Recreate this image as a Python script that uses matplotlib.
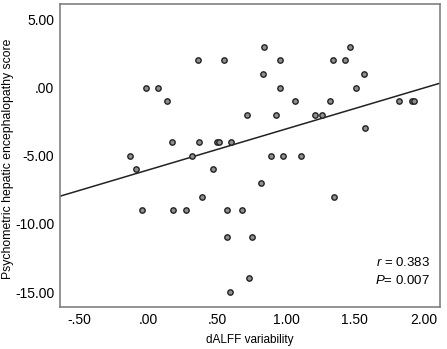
import numpy as np
import matplotlib
matplotlib.use("Agg")
import matplotlib.pyplot as plt

plt.rcParams['font.family'] = ['Liberation Sans', 'DejaVu Sans']
plt.rcParams['mathtext.fontset'] = 'custom'
plt.rcParams['mathtext.rm'] = 'Liberation Sans'
plt.rcParams['mathtext.it'] = 'Liberation Sans:italic'

# dALFF variability (x) and PHES score (y)
dalff = [-0.137, -0.089, -0.047, -0.020, 0.071, 0.132, 0.169, 0.180, 0.271, 0.319,
         0.362, 0.369, 0.389, 0.471, 0.496, 0.511, 0.549, 0.571, 0.571, 0.591,
         0.598, 0.678, 0.719, 0.733, 0.751, 0.820, 0.831, 0.840, 0.891, 0.927,
         0.959, 0.959, 0.980, 1.068, 1.109, 1.211, 1.260, 1.320, 1.340, 1.349,
         1.429, 1.468, 1.509, 1.569, 1.577, 1.820, 1.914, 1.929]
phes = [-5, -6, -9, 0, 0, -1, -4, -9, -9, -5,
        2, -4, -8, -6, -4, -4, 2, -9, -11, -15,
        -4, -9, -2, -14, -11, -7, 1, 3, -5, -2,
        2, 0, -5, -1, -5, -2, -2, -1, 2, -8,
        2, 3, 0, 1, -3, -1, -1, -1]

x_ticks = [-0.5, 0.0, 0.5, 1.0, 1.5, 2.0]
x_labels = ['-.50', '.00', '.50', '1.00', '1.50', '2.00']
y_ticks = [5, 0, -5, -10, -15]
y_labels = ['5.00', '.00', '-5.00', '-10.00', '-15.00']

fig = plt.figure(figsize=(4.47, 3.49), dpi=100)
ax = fig.add_axes([60 / 447, 42 / 349, 380 / 447, 303 / 349])

ax.scatter(dalff, phes, s=15, facecolor='#8f8f8f', edgecolor='#222222', linewidth=1.0, zorder=3)

# linear fit line across the whole axis
xmin, xmax = -0.644, 2.12
slope, intercept = np.polyfit(dalff, phes, 1)
xs = np.array([xmin, xmax])
ax.plot(xs, slope * xs + intercept, color='#222222', linewidth=1.1, zorder=2)

ax.set_xlim(xmin, xmax)
ax.set_ylim(-16.1, 6.13)
ax.set_xticks(x_ticks)
ax.set_xticklabels(x_labels)
ax.set_yticks(y_ticks)
ax.set_yticklabels(y_labels)
ax.tick_params(length=0, labelsize=10, pad=4)
for s in ax.spines.values():
    s.set_color('#808080')
    s.set_linewidth(1.2)

ax.set_xlabel('dALFF variability', fontsize=8.5, labelpad=5)
ax.set_ylabel('Psychometric hepatic encephalopathy score', fontsize=8.8)
ax.yaxis.set_label_coords(-0.12, 0.49)

ax.text(0.974, 0.148, '$r$ = 0.383', transform=ax.transAxes, ha='right', va='center', fontsize=9.5)
ax.text(0.974, 0.088, '$P$= 0.007', transform=ax.transAxes, ha='right', va='center', fontsize=9.5)

fig.savefig('out.png', dpi=100)
